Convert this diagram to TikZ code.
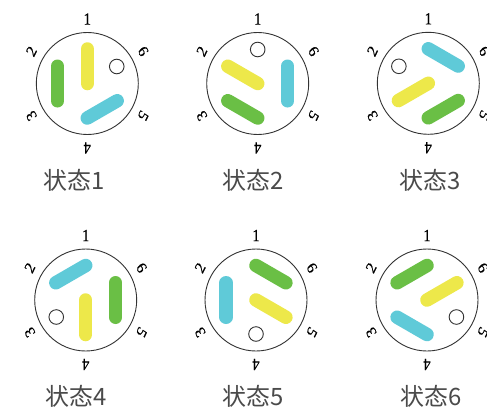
\documentclass[tikz,border=0pt]{standalone}
\usepackage{fontspec}
\setmainfont{Liberation Serif}[FakeBold=0.6]
\newfontfamily\cjkfont{Noto Sans CJK SC}
\definecolor{baryellow}{HTML}{EDE84A}
\definecolor{bargreen}{HTML}{6ABF45}
\definecolor{barcyan}{HTML}{5FCAD8}
\definecolor{ringcol}{HTML}{333333}
\definecolor{capcol}{HTML}{4A4A4A}
\tikzset{
  bar/.style={line width=13.5bp,line cap=round},
  ring/.style={draw=ringcol,line width=0.9bp,fill=white},
  hole/.style={draw=ringcol,line width=0.9bp,fill=white},
  portlabel/.style={font=\fontsize{17}{17}\selectfont,text=black,inner sep=0pt,xscale=0.85},
  caption/.style={font=\cjkfont\fontsize{24}{24}\selectfont,text=capcol,inner sep=0pt}
}
\begin{document}
\begin{tikzpicture}[x=1bp,y=1bp]
\useasboundingbox (0,0) rectangle (487,412);
\fill[white] (0,0) rectangle (487,412);
\foreach \k/\cx/\cy/\tx/\ty in {1/87.3/328.5/74/232,2/257.7/328.5/253/232,3/428.3/328.7/430.5/232,4/85.7/112/76/16,5/256/112/253/16,6/427/112/431/16}{
  \begin{scope}[shift={(\cx,\cy)}]
    \node[ring,circle,minimum size=102bp,inner sep=0pt] (disc\k) at (0,0) {};
    \foreach \n in {1,...,6}{
      \node[portlabel,rotate={(\n-1)*60}] (port\k-\n) at ({90+(\n-1)*60}:64.5) {\n};
    }
    \begin{scope}[rotate={(\k-1)*60}]
      \draw[bar,baryellow] (90:34.5) -- (0,0);
      \draw[bar,bargreen] (150:34.5) -- (210:34.5);
      \draw[bar,barcyan] (270:34.5) -- (330:34.5);
      \node[hole,circle,minimum size=14.6bp,inner sep=0pt] (hole\k) at (30:34) {};
    \end{scope}
  \end{scope}
  \node[caption] (cap\k) at (\tx,\ty) {状态\k};
}
\end{tikzpicture}
\end{document}
